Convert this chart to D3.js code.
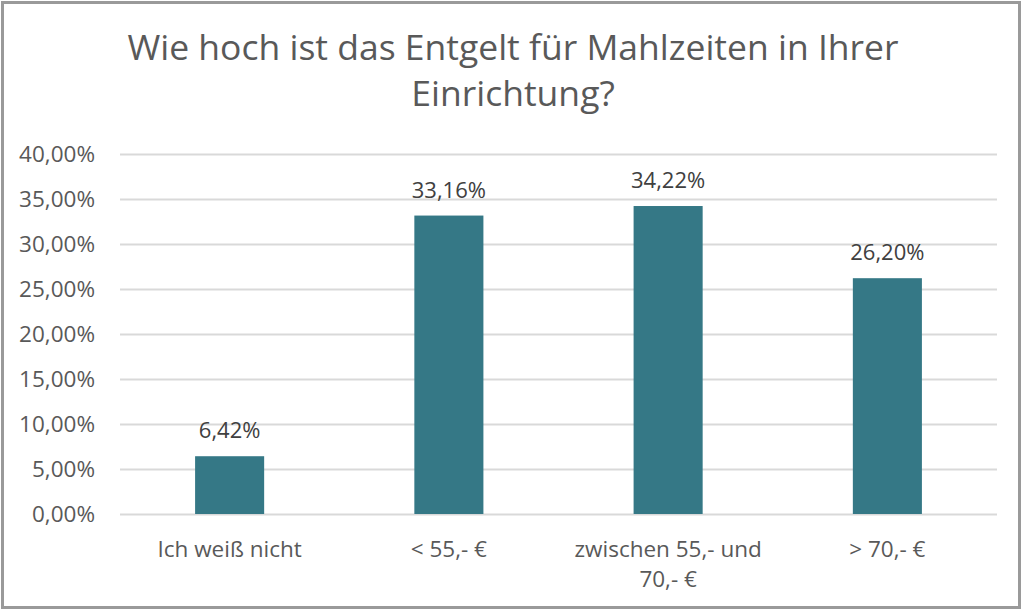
<!DOCTYPE html>
<html>
<head>
<meta charset="utf-8">
<script src="https://cdn.jsdelivr.net/npm/d3@7"></script>
<style>
  html, body { margin: 0; padding: 0; background: #fff; }
  svg { display: block; }
</style>
</head>
<body>
<svg id="chart" width="1024" height="614"></svg>
<script>
const titleLines = ["Wie hoch ist das Entgelt für Mahlzeiten in Ihrer", "Einrichtung?"];
const categories = ["Ich weiß nicht", "< 55,- €", "zwischen 55,- und 70,- €", "> 70,- €"];
const values = [6.42, 33.16, 34.22, 26.20];
const yTicks = [0, 5, 10, 15, 20, 25, 30, 35, 40];

const fmt = v => v.toFixed(2).replace(".", ",") + "%";
const FONT = "'Open Sans', 'Noto Sans', sans-serif";

const svg = d3.select("#chart");
const W = 1024, H = 614;
const margin = { left: 120, right: 27, top: 154, bottom: 100 };
const plotW = W - margin.left - margin.right;
const plotH = H - margin.top - margin.bottom;

// border frame
svg.append("rect")
  .attr("x", 2.5).attr("y", 2.5)
  .attr("width", 1017).attr("height", 605)
  .attr("fill", "#fff").attr("stroke", "#9a9a9a").attr("stroke-width", 3);

// title
const title = svg.append("text")
  .attr("text-anchor", "middle")
  .attr("font-family", FONT)
  .attr("font-size", 35.5)
  .attr("fill", "#595959");
titleLines.forEach((t, i) => {
  title.append("tspan").attr("x", 513).attr("y", 60 + i * 46).text(t);
});

const g = svg.append("g").attr("transform", `translate(${margin.left},${margin.top})`);

const x = d3.scaleBand().domain(categories).range([0, plotW]).paddingInner(0.685).paddingOuter(0.3425);
const y = d3.scaleLinear().domain([0, 40]).range([plotH, 0]);

// gridlines
g.append("g")
  .call(d3.axisLeft(y).tickValues(yTicks).tickSize(-plotW).tickFormat(""))
  .call(a => a.select(".domain").remove())
  .call(a => a.selectAll("line").attr("stroke", "#d9d9d9").attr("stroke-width", 2));

// y tick labels
g.append("g")
  .call(d3.axisLeft(y).tickValues(yTicks).tickSize(0).tickPadding(25).tickFormat(fmt))
  .call(a => a.select(".domain").remove())
  .call(a => a.selectAll("text")
    .attr("font-family", FONT).attr("font-size", 22.5).attr("fill", "#595959"));

// bars
g.selectAll("rect.bar").data(values).join("rect")
  .attr("class", "bar")
  .attr("x", (d, i) => x(categories[i]))
  .attr("y", d => y(d))
  .attr("width", x.bandwidth())
  .attr("height", d => y(0) - y(d))
  .attr("fill", "#357886");

// data labels
g.selectAll("text.lbl").data(values).join("text")
  .attr("class", "lbl")
  .attr("x", (d, i) => x(categories[i]) + x.bandwidth() / 2)
  .attr("y", d => y(d) - 18)
  .attr("text-anchor", "middle")
  .attr("font-family", FONT).attr("font-size", 22).attr("fill", "#404040")
  .text(d => fmt(d));

// x axis labels with wrapping
const xAxis = g.append("g").attr("transform", `translate(0,${plotH})`)
  .call(d3.axisBottom(x).tickSize(0).tickPadding(0))
  .call(a => a.select(".domain").remove());
xAxis.selectAll("text")
  .attr("font-family", FONT).attr("font-size", 22.5).attr("fill", "#595959")
  .attr("dy", null).attr("y", 0)
  .each(function(d) {
    const t = d3.select(this);
    const words = d.split(" ");
    t.text(null);
    const maxW = x.step() * 0.95;
    let line = [], lineNo = 0;
    let tspan = t.append("tspan").attr("x", 0).attr("y", 43);
    words.forEach(w => {
      line.push(w);
      tspan.text(line.join(" "));
      if (tspan.node().getComputedTextLength() > maxW && line.length > 1) {
        line.pop();
        tspan.text(line.join(" "));
        line = [w];
        lineNo++;
        tspan = t.append("tspan").attr("x", 0).attr("y", 43 + lineNo * 30).text(w);
      }
    });
  });
</script>
</body>
</html>
